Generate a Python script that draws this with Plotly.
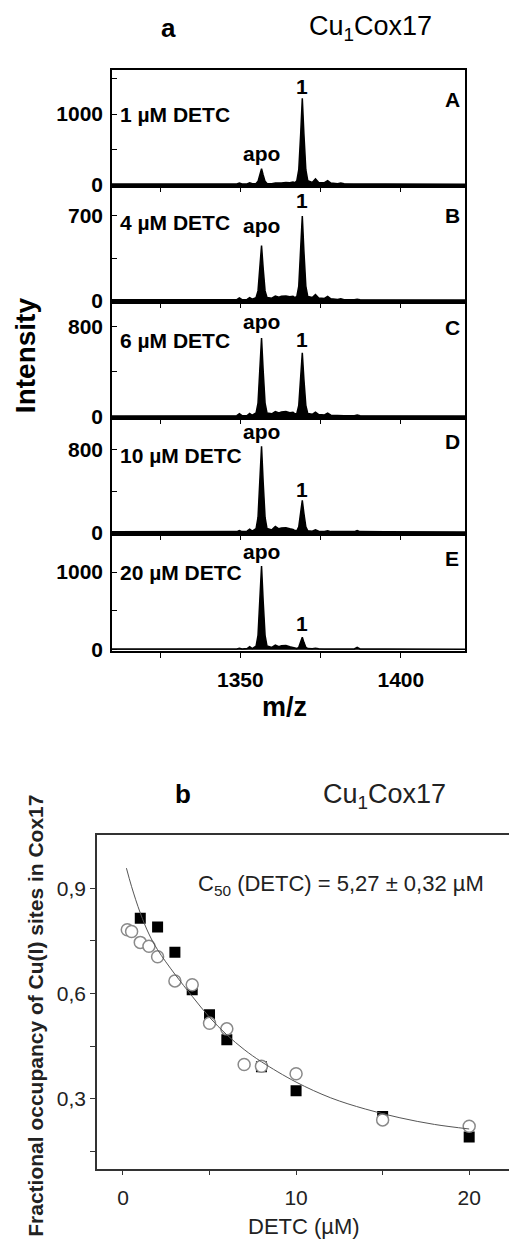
import plotly.graph_objects as go

# ---------------- data : panel a (mass spectra) ----------------
mz = [1310, 1320, 1335, 1345, 1348.9, 1349.7, 1350.5, 1352.1, 1352.9, 1353.7,
      1354.9, 1355.5, 1356.1, 1356.6, 1357.1, 1357.7, 1358.3,
      1359.8, 1360.9, 1362.0, 1362.8, 1364.2, 1365.4, 1366.4, 1367.0,
      1367.6, 1368.2, 1368.8, 1369.3, 1369.8, 1370.4, 1371.0,
      1372.4, 1373.4, 1374.4, 1376.2, 1377.2, 1378.2, 1380.3, 1381.3, 1382.3,
      1385.5, 1386.4, 1387.3, 1395, 1408, 1420]

int_A = [8, 8, 8, 8, 8, 20, 8, 8, 25, 10,
         15, 45, 135, 225, 135, 45, 15,
         12, 22, 15, 20, 28, 25, 35, 25,
         55, 210, 720, 1225, 720, 210, 55,
         30, 80, 30, 25, 55, 20, 12, 22, 10,
         8, 12, 8, 6, 5, 5]
int_B = [6, 6, 6, 8, 8, 22, 8, 10, 25, 12,
         25, 80, 270, 455, 270, 80, 25,
         20, 38, 28, 35, 38, 32, 35, 25,
         35, 120, 410, 700, 410, 120, 35,
         25, 50, 22, 18, 35, 15, 10, 15, 8,
         8, 12, 8, 6, 5, 5]
int_C = [6, 6, 6, 8, 8, 25, 8, 10, 28, 12,
         32, 120, 410, 697, 410, 120, 32,
         25, 45, 32, 40, 45, 35, 38, 25,
         28, 100, 330, 565, 330, 100, 28,
         20, 40, 18, 15, 30, 12, 8, 12, 8,
         8, 15, 8, 6, 5, 5]
int_D = [6, 6, 8, 8, 8, 18, 8, 12, 32, 12,
         38, 145, 490, 832, 490, 145, 38,
         25, 58, 35, 42, 45, 35, 30, 18,
         16, 55, 185, 311, 185, 55, 16,
         12, 26, 12, 10, 16, 8, 8, 10, 6,
         8, 18, 8, 6, 5, 5]
int_E = [8, 8, 10, 10, 10, 20, 10, 15, 38, 15,
         48, 185, 630, 1076, 630, 185, 48,
         30, 60, 40, 50, 55, 40, 30, 18,
         15, 32, 95, 162, 95, 32, 15,
         12, 20, 12, 10, 14, 10, 8, 10, 8,
         10, 30, 10, 8, 6, 6]

spectra = [int_A, int_B, int_C, int_D, int_E]
panel_letters = ["A", "B", "C", "D", "E"]
conditions = ["1 µM DETC", "4 µM DETC", "6 µM DETC", "10 µM DETC", "20 µM DETC"]
y_ranges = [[-14, 1620], [-8, 952], [-9, 1020], [-12, 1110], [-13, 1494]]
y_tickvals = [[0, 500, 1000, 1500], [0, 350, 700], [0, 400, 800], [0, 400, 800], [0, 500, 1000, 1500]]
y_ticktext = [["0", "", "1000", ""], ["0", "", "700"], ["0", "", "800"], ["0", "", "800"], ["0", "", "1000", ""]]
x_tickvals = [1325, 1350, 1375, 1400]
x_ticktext = ["", "1350", "", "1400"]
apo_idx, one_idx = 13, 28

# ---------------- data : panel b (titration) ----------------
sq_x = [1, 2, 3, 4, 5, 6, 8, 10, 15, 20]
sq_y = [0.815, 0.79, 0.718, 0.611, 0.539, 0.468, 0.391, 0.322, 0.249, 0.19]
ci_x = [0.25, 0.5, 1, 1.5, 2, 3, 4, 5, 6, 7, 8, 10, 15, 20]
ci_y = [0.782, 0.777, 0.746, 0.735, 0.705, 0.636, 0.625, 0.515, 0.499, 0.397, 0.392, 0.371, 0.239, 0.221]
fit_x = [0.2, 0.5, 1, 1.5, 2, 3, 4, 5, 6, 7, 8, 10, 12, 14, 16, 18, 20]
fit_y = [0.958, 0.905, 0.83, 0.77, 0.725, 0.655, 0.592, 0.532, 0.482, 0.44, 0.405, 0.347, 0.302, 0.27, 0.245, 0.226, 0.213]
b_xticks = [0, 5, 10, 15, 20]
b_xtext = ["0", "", "10", "", "20"]
b_yticks = [0.15, 0.3, 0.45, 0.6, 0.75, 0.9]
b_ytext = ["", "0,3", "", "0,6", "", "0,9"]

# ---------------- layout helpers ----------------
W, H = 509, 1248
FONT = "Liberation Sans, Arial, sans-serif"


def py(p):
    return 1 - p / H


def px(p):
    return p / W


def note(x, y, text, size, color="black", xanchor="center", angle=0):
    return dict(xref="paper", yref="paper", x=px(x), y=py(y), xanchor=xanchor,
                yanchor="middle", showarrow=False, textangle=angle, text=text,
                font=dict(size=size, family=FONT, color=color))


bounds = [71, 187, 304, 421, 538, 656]
letter_y = [100, 217, 330, 445, 563]
cond_y = [115, 224, 343, 459, 577]
apo_shift = [15, 20, 16, 15, 15]
one_shift = [12, 15, 13, 11, 14]

fig = go.Figure()
layout = dict(
    width=W, height=H,
    margin=dict(l=0, r=0, t=0, b=0),
    paper_bgcolor="white", plot_bgcolor="white",
    showlegend=False,
    font=dict(family=FONT, color="black"),
)
annotations = []

for i in range(5):
    n = i + 1
    xa, ya = f"x{n}", f"y{n}"
    fig.add_trace(go.Scatter(
        x=mz, y=spectra[i], mode="lines",
        line=dict(color="black", width=1.5),
        fill="tozeroy", fillcolor="black",
        xaxis=xa, yaxis=ya, hoverinfo="skip"))
    last = (i == 4)
    layout[f"xaxis{n}"] = dict(
        domain=[px(112), px(465)], anchor=ya, range=[1310, 1420],
        showline=True, mirror=True, linecolor="black", linewidth=1.6,
        ticks="outside", ticklen=5, tickwidth=1.2, tickcolor="black",
        tickvals=x_tickvals, ticktext=x_ticktext,
        showticklabels=last, showgrid=False, zeroline=False,
        tickfont=dict(size=21, family=FONT, weight="bold"),
        ticklabelstandoff=4,
    )
    layout[f"yaxis{n}"] = dict(
        domain=[py(bounds[i + 1]), py(bounds[i])], anchor=xa, range=y_ranges[i],
        showline=True, mirror=True, linecolor="black", linewidth=1.6,
        ticks="inside", ticklen=5, tickwidth=1.2, tickcolor="black",
        tickvals=y_tickvals[i], ticktext=y_ticktext[i],
        showgrid=False, zeroline=False,
        tickfont=dict(size=21, family=FONT, weight="bold"),
        ticklabelstandoff=3,
    )
    annotations.append(note(118, cond_y[i], f"<b>{conditions[i]}</b>", 21, xanchor="left"))
    annotations.append(note(452, letter_y[i], f"<b>{panel_letters[i]}</b>", 21))
    annotations.append(dict(
        xref=xa, yref=ya, x=mz[apo_idx], y=spectra[i][apo_idx],
        xanchor="center", yanchor="middle", yshift=apo_shift[i], showarrow=False,
        text="<b>apo</b>", font=dict(size=21, family=FONT)))
    annotations.append(dict(
        xref=xa, yref=ya, x=mz[one_idx], y=spectra[i][one_idx],
        xanchor="center", yanchor="middle", yshift=one_shift[i], showarrow=False,
        text="<b>1</b>", font=dict(size=21, family=FONT)))

# panel a titles
annotations += [
    note(168, 28, "<b>a</b>", 26),
    note(370, 28, "Cu<sub>1</sub>Cox17", 27),
    note(25, 358, "<b>Intensity</b>", 28, angle=-90),
    note(284, 713, "<b>m/z</b>", 27),
]

# ---------------- panel b ----------------
fig.add_trace(go.Scatter(
    x=sq_x, y=sq_y, mode="markers", xaxis="x6", yaxis="y6",
    marker=dict(symbol="square", size=11, color="black", line=dict(width=0))))
fig.add_trace(go.Scatter(
    x=ci_x, y=ci_y, mode="markers", xaxis="x6", yaxis="y6",
    marker=dict(symbol="circle", size=12, color="white", line=dict(color="#8a8a8a", width=1.5))))
fig.add_trace(go.Scatter(
    x=fit_x, y=fit_y, mode="lines", xaxis="x6", yaxis="y6",
    line=dict(color="#555555", width=1, shape="spline")))

layout["xaxis6"] = dict(
    domain=[px(97), 1.0], anchor="y6", range=[-1.5, 22.3],
    showline=True, mirror=True, linecolor="#333333", linewidth=1.5,
    ticks="outside", ticklen=5, tickwidth=1.2, tickcolor="#333333",
    tickvals=b_xticks, ticktext=b_xtext,
    showgrid=False, zeroline=False,
    tickfont=dict(size=21, family=FONT, color="#222222"),
    ticklabelstandoff=4,
)
layout["yaxis6"] = dict(
    domain=[py(1178), py(842)], anchor="x6", range=[0.1, 1.052],
    showline=True, mirror=False, linecolor="#333333", linewidth=1.5,
    ticks="outside", ticklen=5, tickwidth=1.2, tickcolor="#333333",
    tickvals=b_yticks, ticktext=b_ytext,
    showgrid=False, zeroline=False,
    tickfont=dict(size=21, family=FONT, color="#222222"),
    ticklabelstandoff=0,
)

annotations += [
    note(183, 800, "<b>b</b>", 26),
    note(384, 802, "Cu<sub>1</sub>Cox17", 27, color="#222222"),
    note(196, 892, "C<sub>50</sub> (DETC) = 5,27 ± 0,32 µM", 22, color="#222222", xanchor="left"),
    note(304, 1236, "DETC (µM)", 22, color="#222222"),
    note(36, 1024, "<b>Fractional occupancy of Cu(I) sites in Cox17</b>", 21, color="#222222", angle=-90),
]

layout["annotations"] = annotations
fig.update_layout(**layout)
fig.write_html("out.html")
